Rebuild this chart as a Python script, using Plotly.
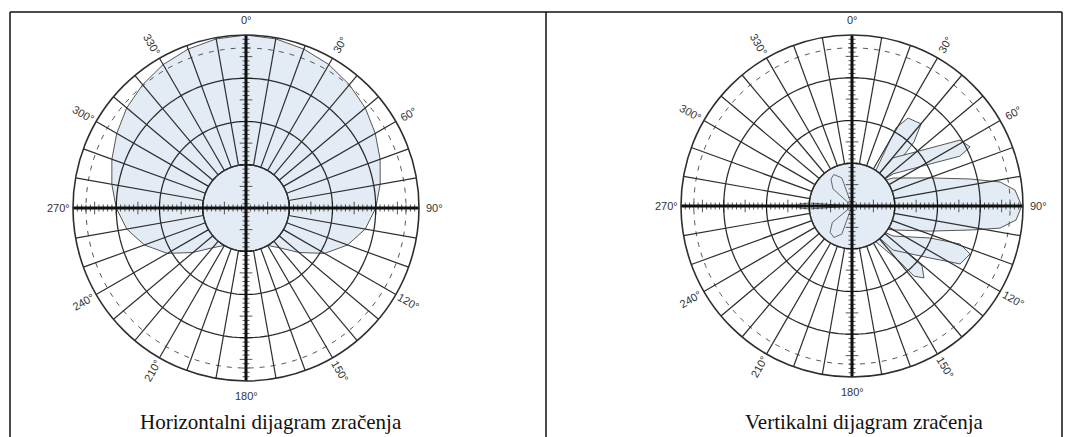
import math
import plotly.graph_objects as go

W, H = 1070, 437

# ---------------- data ----------------
ANGLE_TICKS = [0, 30, 60, 90, 120, 150, 180, 210, 240, 270, 300, 330]
ANGLE_LABELS = ["0°", "30°", "60°", "90°", "120°", "150°", "180°",
                "210°", "240°", "270°", "300°", "330°"]
RING_DB = [-30, -20, -10]
DASHED_RING_DB = -3

# Horizontal pattern (dB vs azimuth, clockwise from 0°)
H_THETA = [0, 10, 20, 30, 40, 50, 60, 70, 80, 90, 100, 110, 120, 130, 140, 150, 160, 170,
           180, 190, 200, 210, 220, 230, 240, 250, 260, 270, 280, 290, 300, 310, 320, 330, 340, 350, 360]
H_DB = [0, -0.3, -0.9, -1.7, -2.8, -4.0, -5.5, -7.0, -8.5, -10, -12, -15, -19, -24, -28, -30, -30, -30,
        -30, -30, -30, -30, -28, -24, -19, -15, -12, -10, -8.5, -7.0, -5.5, -4.0, -2.8, -1.7, -0.9, -0.3, 0]

# Vertical pattern lobes (dB vs elevation angle)
V_MAIN_THETA = [50, 55.7, 70.2, 77.1, 80.8, 84.4, 90, 94.9, 98.5, 101.5, 107.8, 120.3, 126]
V_MAIN_DB = [-31, -28.4, -20.6, -11.7, -4.9, -1.7, -0.3, -1.5, -5.0, -11.8, -20.8, -28.9, -31]

V_UP1_THETA = [40, 40.5, 53.4, 58.6, 63.4, 65.2, 61.7, 52.0, 50]
V_UP1_DB = [-31, -25.2, -17.3, -10.4, -9.1, -12.2, -19.3, -27.8, -31]

V_UP2_THETA = [30, 33.7, 29.4, 32.5, 40.1, 44.1, 50.2, 45]
V_UP2_DB = [-31, -29.9, -19.0, -15.6, -14.9, -19.2, -29.0, -31]

V_LO1_THETA = [130, 126.2, 112.3, 109.4, 112.1, 118.2, 123.7, 137.0, 140]
V_LO1_DB = [-31, -28.1, -20.3, -13.2, -10.2, -11.3, -18.1, -25.9, -31]

V_LO2_THETA = [126, 129.8, 130.6, 135, 138.5, 139.4, 146.3, 150]
V_LO2_DB = [-31, -29.0, -18.4, -16.2, -18.1, -22.7, -29.9, -31]

V_BACK_THETA = [[262, 266, 268, 270, 272, 274, 278],
                [300, 312, 322, 330, 340, 352],
                [188, 200, 210, 220, 230, 242]]
V_BACK_DB = [[-40, -30, -27.5, -27, -27.5, -30, -40],
             [-40, -34, -32, -31.5, -33, -40],
             [-40, -33, -31.5, -32, -34, -40]]

# ---------------- style ----------------
FILL = "#e3ecf5"
GRID = "#2e2e2e"
RMIN, RMAX = -40, 0

fig = go.Figure()

CIRCLE_T = list(range(0, 361, 2))


def add_grid(sub):
    # rings
    for db in RING_DB:
        fig.add_trace(go.Scatterpolar(theta=CIRCLE_T, r=[db] * len(CIRCLE_T), mode="lines",
                                      line=dict(color=GRID, width=1.3), subplot=sub,
                                      showlegend=False, hoverinfo="skip"))
    fig.add_trace(go.Scatterpolar(theta=CIRCLE_T, r=[DASHED_RING_DB] * len(CIRCLE_T), mode="lines",
                                  line=dict(color="#555", width=1, dash="5px,6px"), subplot=sub,
                                  showlegend=False, hoverinfo="skip"))
    # spokes every 10° from the -30 dB ring outward
    st, sr = [], []
    for a in range(0, 360, 10):
        st += [a, a, None]
        sr += [-30, 0, None]
    fig.add_trace(go.Scatterpolar(theta=st, r=sr, mode="lines",
                                  line=dict(color=GRID, width=1.2), subplot=sub,
                                  showlegend=False, hoverinfo="skip"))
    # main axes
    for a in (0, 90):
        fig.add_trace(go.Scatterpolar(theta=[a, a, a + 180], r=[0, -40, 0], mode="lines",
                                      line=dict(color="#111", width=3), subplot=sub,
                                      showlegend=False, hoverinfo="skip"))
    # ruler ticks on the axes
    ticks_r = list(range(-39, 0))
    for a, sym in ((0, "line-ew"), (180, "line-ew"), (90, "line-ns"), (270, "line-ns")):
        sizes = [9 if v % 5 == 0 else 5 for v in ticks_r]
        fig.add_trace(go.Scatterpolar(theta=[a] * len(ticks_r), r=ticks_r, mode="markers",
                                      marker=dict(symbol=sym, size=sizes,
                                                  line=dict(color="#111", width=1)),
                                      subplot=sub, showlegend=False, hoverinfo="skip"))


def add_fill(sub, th, r, outline="#555"):
    fig.add_trace(go.Scatterpolar(theta=th, r=r, mode="lines", fill="toself", fillcolor=FILL,
                                  line=dict(color=outline, width=1), subplot=sub,
                                  showlegend=False, hoverinfo="skip"))


def inner_circle(sub):
    fig.add_trace(go.Scatterpolar(theta=CIRCLE_T, r=[-30] * len(CIRCLE_T), mode="lines",
                                  fill="toself", fillcolor=FILL,
                                  line=dict(color=GRID, width=1.3), subplot=sub,
                                  showlegend=False, hoverinfo="skip"))


# ----- left chart -----
add_fill("polar", H_THETA, H_DB)
inner_circle("polar")
add_grid("polar")

# ----- right chart -----
for th, rr in ((V_UP2_THETA, V_UP2_DB), (V_LO2_THETA, V_LO2_DB),
               (V_UP1_THETA, V_UP1_DB), (V_LO1_THETA, V_LO1_DB),
               (V_MAIN_THETA, V_MAIN_DB)):
    add_fill("polar2", th, rr)
inner_circle("polar2")
for th, rr in zip(V_BACK_THETA, V_BACK_DB):
    fig.add_trace(go.Scatterpolar(theta=th, r=rr, mode="lines",
                                  line=dict(color="#666", width=1), subplot="polar2",
                                  showlegend=False, hoverinfo="skip"))
add_grid("polar2")

# ---------------- layout ----------------
CHARTS = [((246, 208), 173, "polar", "Horizontalni dijagram zračenja", 271),
          ((852, 206), 171, "polar2", "Vertikalni dijagram zračenja", 864)]

polar_common = dict(
    bgcolor="white",
    radialaxis=dict(range=[RMIN, RMAX], visible=False),
    angularaxis=dict(rotation=90, direction="clockwise", showgrid=False,
                     showticklabels=False, ticks="", showline=True,
                     linecolor=GRID, linewidth=1.6),
)

annotations = []
layout_polars = {}
for (cx, cy), R, name, caption, capx in CHARTS:
    layout_polars[name] = dict(
        domain=dict(x=[(cx - R) / W, (cx + R) / W], y=[1 - (cy + R) / H, 1 - (cy - R) / H]),
        **polar_common)
    off = R + 15
    for a, lab in zip(ANGLE_TICKS, ANGLE_LABELS):
        rad = math.radians(a)
        px = cx + off * math.sin(rad)
        py = cy - off * math.cos(rad)
        ang = 0 if a % 180 == 0 else ((a - 90 + 90) % 180) - 90
        annotations.append(dict(x=px / W, y=1 - py / H, xref="paper", yref="paper",
                                text=lab, showarrow=False, textangle=ang,
                                font=dict(family="Liberation Sans, Arial", size=11, color="#333333"),
                                xanchor="center", yanchor="middle"))
    annotations.append(dict(x=capx / W, y=1 - 422 / H, xref="paper", yref="paper", text=caption,
                            showarrow=False, xanchor="center", yanchor="middle",
                            font=dict(family="Liberation Serif, Times New Roman", size=21,
                                      color="#111")))

shapes = [
    dict(type="line", xref="paper", yref="paper", x0=10 / W, x1=1062 / W, y0=1 - 12 / H, y1=1 - 12 / H,
         line=dict(color="#111", width=1.5)),
    dict(type="line", xref="paper", yref="paper", x0=10 / W, x1=10 / W, y0=1 - 12 / H, y1=0,
         line=dict(color="#111", width=1.5)),
    dict(type="line", xref="paper", yref="paper", x0=546 / W, x1=546 / W, y0=1 - 12 / H, y1=0,
         line=dict(color="#111", width=1.5)),
    dict(type="line", xref="paper", yref="paper", x0=1062 / W, x1=1062 / W, y0=1 - 12 / H, y1=0,
         line=dict(color="#111", width=1.5)),
]

fig.update_layout(width=W, height=H, autosize=False, margin=dict(l=0, r=0, t=0, b=0),
                  paper_bgcolor="white", plot_bgcolor="white", showlegend=False,
                  annotations=annotations, shapes=shapes, **layout_polars)

fig.write_html("out.html", config=dict(displayModeBar=False),
               post_script="document.body.style.margin='0';document.body.style.padding='0';"
                           "document.body.style.overflow='hidden';")
